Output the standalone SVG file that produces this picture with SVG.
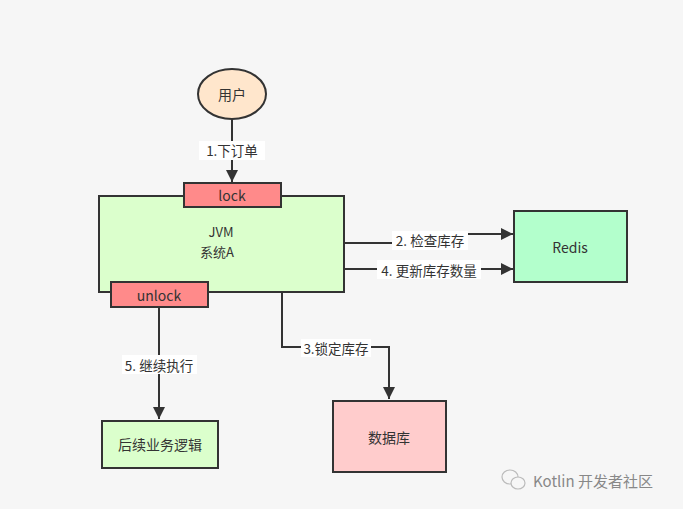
<svg xmlns="http://www.w3.org/2000/svg" width="683" height="509" viewBox="0 0 683 509">
<defs>
<marker id="arr" viewBox="0 0 10 10" refX="10" refY="5" markerWidth="6" markerHeight="6" orient="auto" markerUnits="strokeWidth">
<path d="M0,0 L10,5 L0,10 Z" fill="#333"/>
</marker>
<style>
text{font-family:"Noto Sans CJK SC","Liberation Sans",sans-serif;font-size:14px;fill:#333;text-anchor:middle;dominant-baseline:central}
.n{stroke:#333;stroke-width:2}
.c{fill:none;stroke:#333;stroke-width:2;marker-end:url(#arr)}
.lb{fill:#fff}
.lt{font-size:13.5px}
.j{font-size:13px}
</style>
</defs>
<rect width="683" height="509" fill="#f6f6f6"/>
<g id="connectors">
<path class="c" d="M232,118 V182"/>
<path class="c" d="M344,243 H400 V234 H513"/>
<path class="c" d="M344,269 H513"/>
<path class="c" d="M282,292 V347 H389 V399"/>
<path class="c" d="M159,307 V419"/>
<rect class="lb" x="199" y="141" width="66" height="19"/>
<text class="lt" x="232" y="150">1.下订单</text>
<rect class="lb" x="392" y="231" width="76" height="19"/>
<text class="lt" x="430" y="240">2. 检查库存</text>
<rect class="lb" x="377" y="260" width="104" height="19"/>
<text class="lt" x="429" y="270">4. 更新库存数量</text>
<rect class="lb" x="301" y="339" width="70" height="18"/>
<text class="lt" x="336" y="348">3.锁定库存</text>
<rect class="lb" x="122" y="355" width="75" height="19"/>
<text class="lt" x="159" y="365">5. 继续执行</text>
</g>
<g id="user">
<ellipse class="n" cx="232" cy="94" rx="34" ry="25" fill="#ffe6cc"/>
<text x="232" y="94">用户</text>
</g>
<g id="jvm">
<rect class="n" x="99" y="196" width="245" height="96" fill="#dbffcc"/>
<text class="j" x="221" y="231">JVM</text>
<text class="j" x="217" y="251">系统A</text>
</g>
<g id="lock">
<rect class="n" x="184" y="183" width="97" height="24" fill="#ff8a8a"/>
<text x="232" y="195">lock</text>
</g>
<g id="unlock">
<rect class="n" x="111" y="282" width="97" height="25" fill="#ff8a8a"/>
<text x="159" y="295">unlock</text>
</g>
<g id="redis">
<rect class="n" x="514" y="211" width="113" height="71" fill="#b3ffcc"/>
<text x="570" y="247">Redis</text>
</g>
<g id="db">
<rect class="n" x="333" y="401" width="113" height="71" fill="#ffcccc"/>
<text x="389" y="437">数据库</text>
</g>
<g id="follow">
<rect class="n" x="102" y="421" width="116" height="47" fill="#dbffcc"/>
<text x="160" y="444">后续业务逻辑</text>
</g>
<g id="watermark">
<ellipse cx="510" cy="477" rx="8" ry="7" fill="none" stroke="#bbb" stroke-width="1.2"/>
<ellipse cx="518" cy="483" rx="7" ry="6" fill="#f6f6f6" stroke="#bbb" stroke-width="1.2"/>
<text x="593" y="480" style="font-size:15px;fill:#888">Kotlin 开发者社区</text>
</g>
</svg>
